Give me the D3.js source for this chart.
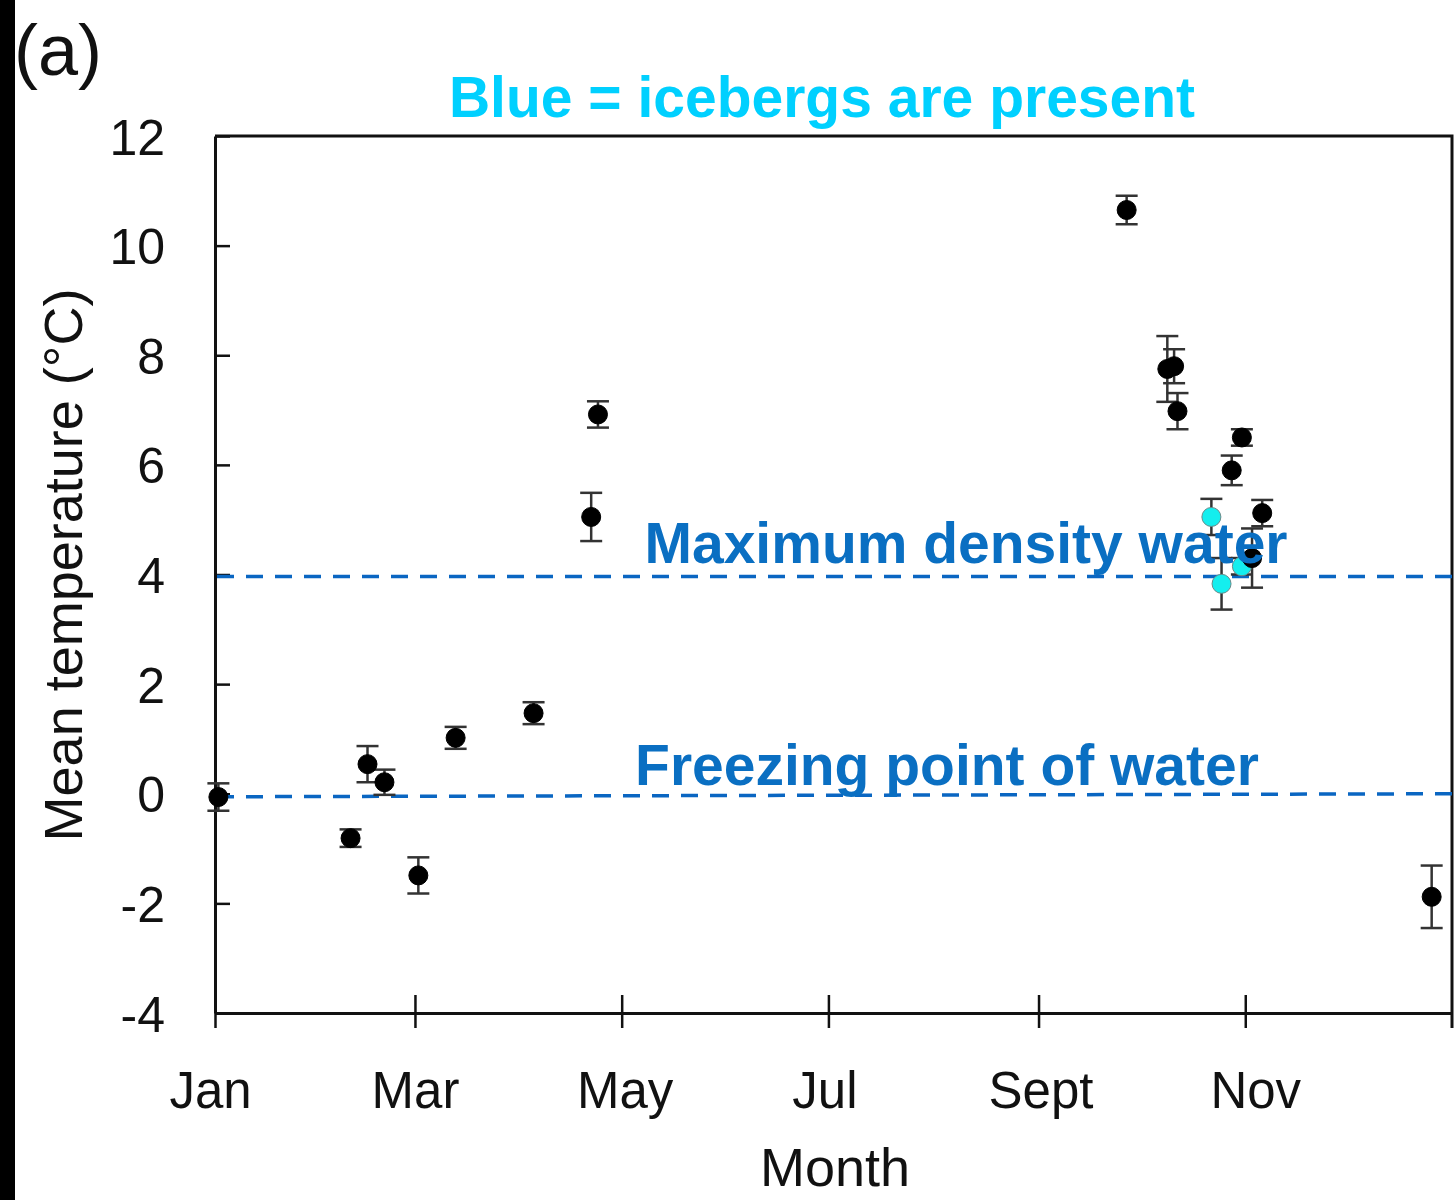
<!DOCTYPE html>
<html>
<head>
<meta charset="utf-8">
<script src="https://cdn.jsdelivr.net/npm/d3@7"></script>
<style>
  html, body { margin: 0; padding: 0; background: #fff; }
  svg { display: block; }
</style>
</head>
<body>
<svg id="chart" width="1455" height="1200"></svg>
<script>
// Survey mean water temperature by day of year (days after 1 Jan), with ±error
const dayOfYear = [1, 40, 45, 50, 60, 71, 94, 111, 113, 269, 281, 283, 284, 303, 300, 294, 309, 303, 306, 297, 359];
const meanTemp  = [-0.06, -0.81, 0.54, 0.21, -1.49, 1.02, 1.47, 5.05, 6.92, 10.65, 7.75, 7.8, 6.98, 6.5, 5.9, 5.05, 5.12, 4.15, 4.3, 3.83, -1.88];
const errTemp   = [0.25, 0.16, 0.33, 0.23, 0.33, 0.2, 0.2, 0.44, 0.24, 0.26, 0.6, 0.31, 0.33, 0.15, 0.27, 0.33, 0.24, 0.15, 0.54, 0.47, 0.57];
const iceberg   = [false, false, false, false, false, false, false, false, false, false, false, false, false, false, false, true, false, true, false, true, false];

const monthTickLabels = ["Jan", "Mar", "May", "Jul", "Sept", "Nov"];
const monthTickIndex  = [0, 2, 4, 6, 8, 10];
const tempTicks = [-4, -2, 0, 2, 4, 6, 8, 10, 12];
const refLines = [
  { value: 4, label: "Maximum density water" },
  { value: 0, label: "Freezing point of water" }
];

const svg = d3.select("#chart");
const plotL = 215, plotR = 1452, plotT = 136, plotB = 1013;
const year = 2015;
const jan1 = new Date(year, 0, 1);

const x = d3.scaleTime()
  .domain([jan1, new Date(year + 1, 0, 1)])
  .range([plotL, plotR]);
const y = d3.scaleLinear().domain([-4, 12]).range([plotB, plotT]);

const toDate = d => d3.timeDay.offset(jan1, d);

const points = dayOfYear.map((d, i) => ({
  date: toDate(d), t: meanTemp[i], e: errTemp[i], ice: iceberg[i]
}));

const labelFont = "'Liberation Sans', Arial, sans-serif";

// dark strip along the left edge
svg.append("rect").attr("x", 0).attr("y", 0).attr("width", 15).attr("height", 1200).attr("fill", "#000");

// plot frame (top and right sides)
svg.append("path")
  .attr("d", `M${plotL},${plotT}H${plotR}V${plotB + 15}`)
  .attr("fill", "none").attr("stroke", "#111").attr("stroke-width", 3);

// y axis with inward ticks, plain hyphen for negatives
const yAxis = d3.axisLeft(y).tickValues(tempTicks).tickSize(0).tickPadding(50).tickFormat(d => String(d));
const gy = svg.append("g").attr("transform", `translate(${plotL},0)`).call(yAxis);
gy.select(".domain").attr("stroke", "#111").attr("stroke-width", 3);
gy.selectAll(".tick text")
  .attr("font-family", labelFont).attr("font-size", 50).attr("fill", "#111")
  .attr("dy", "0.36em");
gy.selectAll(".tick").append("line")
  .attr("x1", 0).attr("x2", 15).attr("stroke", "#111").attr("stroke-width", 2.5);

// x axis: month ticks crossing the baseline
const monthLabelShift = [-5, 0, 3, -4, 2, 10];
const monthDates = monthTickIndex.map(m => new Date(year, m, 1));
const xAxis = d3.axisBottom(x).tickValues(monthDates).tickSize(0)
  .tickFormat((d, i) => monthTickLabels[i]);
const gx = svg.append("g").attr("transform", `translate(0,${plotB})`).call(xAxis);
gx.select(".domain").attr("stroke", "#111").attr("stroke-width", 3);
gx.selectAll(".tick text")
  .attr("font-family", labelFont).attr("font-size", 51).attr("fill", "#111")
  .attr("x", (d, i) => monthLabelShift[i])
  .attr("y", 95).attr("dy", 0);
gx.selectAll(".tick").append("line")
  .attr("y1", (d, i) => i === 0 ? 0 : -18).attr("y2", 15)
  .attr("stroke", "#111").attr("stroke-width", 2.5);

// reference lines
svg.selectAll("line.ref").data(refLines).join("line")
  .attr("class", "ref")
  .attr("x1", plotL + 2).attr("x2", plotR)
  .attr("y1", d => y(d.value) + (d.value === 0 ? 3 : 2)).attr("y2", d => y(d.value) + (d.value === 0 ? 0 : 2))
  .attr("stroke", "#0a66c2").attr("stroke-width", 3.5).attr("stroke-dasharray", "17 12");

// error bars
const eb = svg.append("g").attr("stroke", "#333").attr("stroke-width", 2.5);
points.forEach(p => {
  const cx = x(p.date);
  eb.append("line").attr("x1", cx).attr("x2", cx).attr("y1", y(p.t + p.e)).attr("y2", y(p.t - p.e));
  [p.t + p.e, p.t - p.e].forEach(v => {
    eb.append("line").attr("x1", cx - 11).attr("x2", cx + 11).attr("y1", y(v)).attr("y2", y(v));
  });
});

// markers
svg.append("g").selectAll("circle").data(points).join("circle")
  .attr("cx", d => x(d.date)).attr("cy", d => y(d.t)).attr("r", 9.5)
  .attr("fill", d => d.ice ? "#14eeee" : "#000")
  .attr("stroke", d => d.ice ? "#6a8a8a" : "#000").attr("stroke-width", 1);

// reference line labels
const refLabelX = [966, 947];
const refLabelY = [563, 785];
svg.selectAll("text.reflabel").data(refLines).join("text")
  .attr("class", "reflabel")
  .attr("x", (d, i) => refLabelX[i]).attr("y", (d, i) => refLabelY[i])
  .attr("text-anchor", "middle")
  .attr("font-family", labelFont).attr("font-weight", "bold").attr("font-size", 57)
  .attr("fill", "#0a6fc2")
  .text(d => d.label);

// heading
svg.append("text").attr("x", 822).attr("y", 117).attr("text-anchor", "middle")
  .attr("font-family", labelFont).attr("font-weight", "bold").attr("font-size", 57)
  .attr("fill", "#00d0ff").text("Blue = icebergs are present");

// panel tag
svg.append("text").attr("x", 14).attr("y", 75)
  .attr("font-family", labelFont).attr("font-size", 72).attr("fill", "#111").text("(a)");

// axis titles
svg.append("text").attr("x", 835).attr("y", 1186).attr("text-anchor", "middle")
  .attr("font-family", labelFont).attr("font-size", 54).attr("fill", "#111").text("Month");
svg.append("text").attr("transform", "translate(82,565) rotate(-90)").attr("text-anchor", "middle")
  .attr("font-family", labelFont).attr("font-size", 54).attr("fill", "#111").text("Mean temperature (°C)");
</script>
</body>
</html>
